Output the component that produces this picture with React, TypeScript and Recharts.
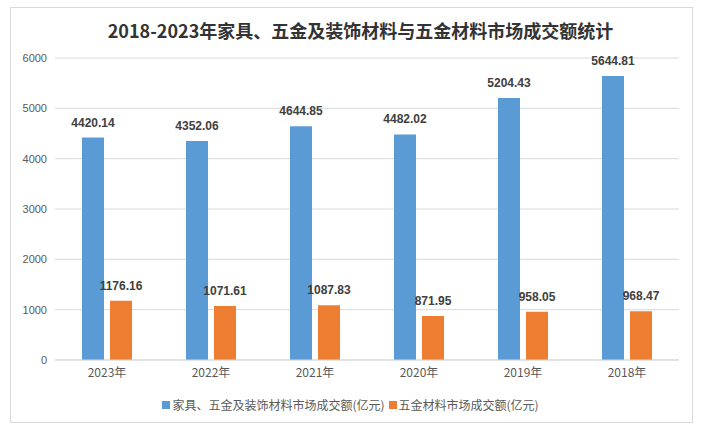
import React from "react";
import { BarChart, Bar, XAxis, YAxis, CartesianGrid, Legend, LabelList } from "recharts";

const categories = ["2023年", "2022年", "2021年", "2020年", "2019年", "2018年"];
const furnitureValues = [4420.14, 4352.06, 4644.85, 4482.02, 5204.43, 5644.81];
const hardwareValues = [1176.16, 1071.61, 1087.83, 871.95, 958.05, 968.47];
const yTicks = [0, 1000, 2000, 3000, 4000, 5000, 6000];
const seriesNames = ["家具、五金及装饰材料市场成交额(亿元)", "五金材料市场成交额(亿元)"];
const title = "2018-2023年家具、五金及装饰材料与五金材料市场成交额统计";

const data = categories.map((year, i) => ({
  year,
  furniture: furnitureValues[i],
  hardware: hardwareValues[i],
}));

const cjk = "'Noto Sans CJK SC', 'Noto Sans', sans-serif";
const latin = "'Liberation Sans', Arial, sans-serif";

function LegendContent(props: any) {
  // keep the series order instead of the default alphabetical sort
  const items = [...(props.payload || [])].sort(
    (a: any, b: any) => seriesNames.indexOf(a.value) - seriesNames.indexOf(b.value)
  );
  return (
    <div style={{ display: "flex", justifyContent: "center", alignItems: "center", fontFamily: cjk, fontSize: 12, color: "#595959" }}>
      {items.map((it: any, i: number) => (
        <div key={i} style={{ display: "flex", alignItems: "center", marginRight: 4 }}>
          <span style={{ display: "inline-block", width: 8, height: 8, background: it.color, marginRight: 2 }} />
          <span>{it.value}</span>
        </div>
      ))}
    </div>
  );
}

export default function App() {
  return (
    <div style={{ position: "absolute", left: 0, top: 0, width: 705, height: 434, background: "#fff" }}>
      {/* frame */}
      <div
        style={{
          position: "absolute",
          left: 10,
          top: 7,
          width: 683,
          height: 416,
          border: "1px solid #d9d9d9",
          boxSizing: "border-box",
        }}
      />

      {/* title */}
      <div
        style={{
          position: "absolute",
          left: 8,
          top: 17,
          width: 705,
          textAlign: "center",
          fontFamily: cjk,
          fontWeight: "bold",
          fontSize: 18,
          lineHeight: "26px",
          color: "#333333",
        }}
      >
        {title}
      </div>

      <div style={{ position: "absolute", left: 0, top: 0 }}>
        <BarChart
          width={705}
          height={434}
          data={data}
          margin={{ top: 58, right: 26, left: 10, bottom: 44 }}
          barGap={6}
        >
          <CartesianGrid vertical={false} stroke="#d9d9d9" />
          <XAxis
            dataKey="year"
            height={30}
            axisLine={{ stroke: "#d9d9d9" }}
            tickLine={false}
            tick={{ fontSize: 12, fill: "#595959", fontFamily: cjk }}
          />
          <YAxis
            width={45}
            domain={[0, 6000]}
            ticks={yTicks}
            axisLine={false}
            tickLine={false}
            tick={{ fontSize: 11, fill: "#595959", fontFamily: latin }}
          />
          <Legend
            layout="vertical"
            verticalAlign="middle"
            align="center"
            content={<LegendContent />}
            wrapperStyle={{ position: "absolute", left: 0, top: 396, width: 705, height: 20 }}
          />
          <Bar dataKey="furniture" name={seriesNames[0]} fill="#5B9BD5" barSize={22} isAnimationActive={false}>
            <LabelList
              dataKey="furniture"
              position="top"
              offset={11}
              style={{ fontSize: 12, fontWeight: "bold", fill: "#404040", fontFamily: latin }}
            />
          </Bar>
          <Bar dataKey="hardware" name={seriesNames[1]} fill="#ED7D31" barSize={22} isAnimationActive={false}>
            <LabelList
              dataKey="hardware"
              position="top"
              offset={11}
              style={{ fontSize: 12, fontWeight: "bold", fill: "#404040", fontFamily: latin }}
            />
          </Bar>
        </BarChart>
      </div>
    </div>
  );
}
